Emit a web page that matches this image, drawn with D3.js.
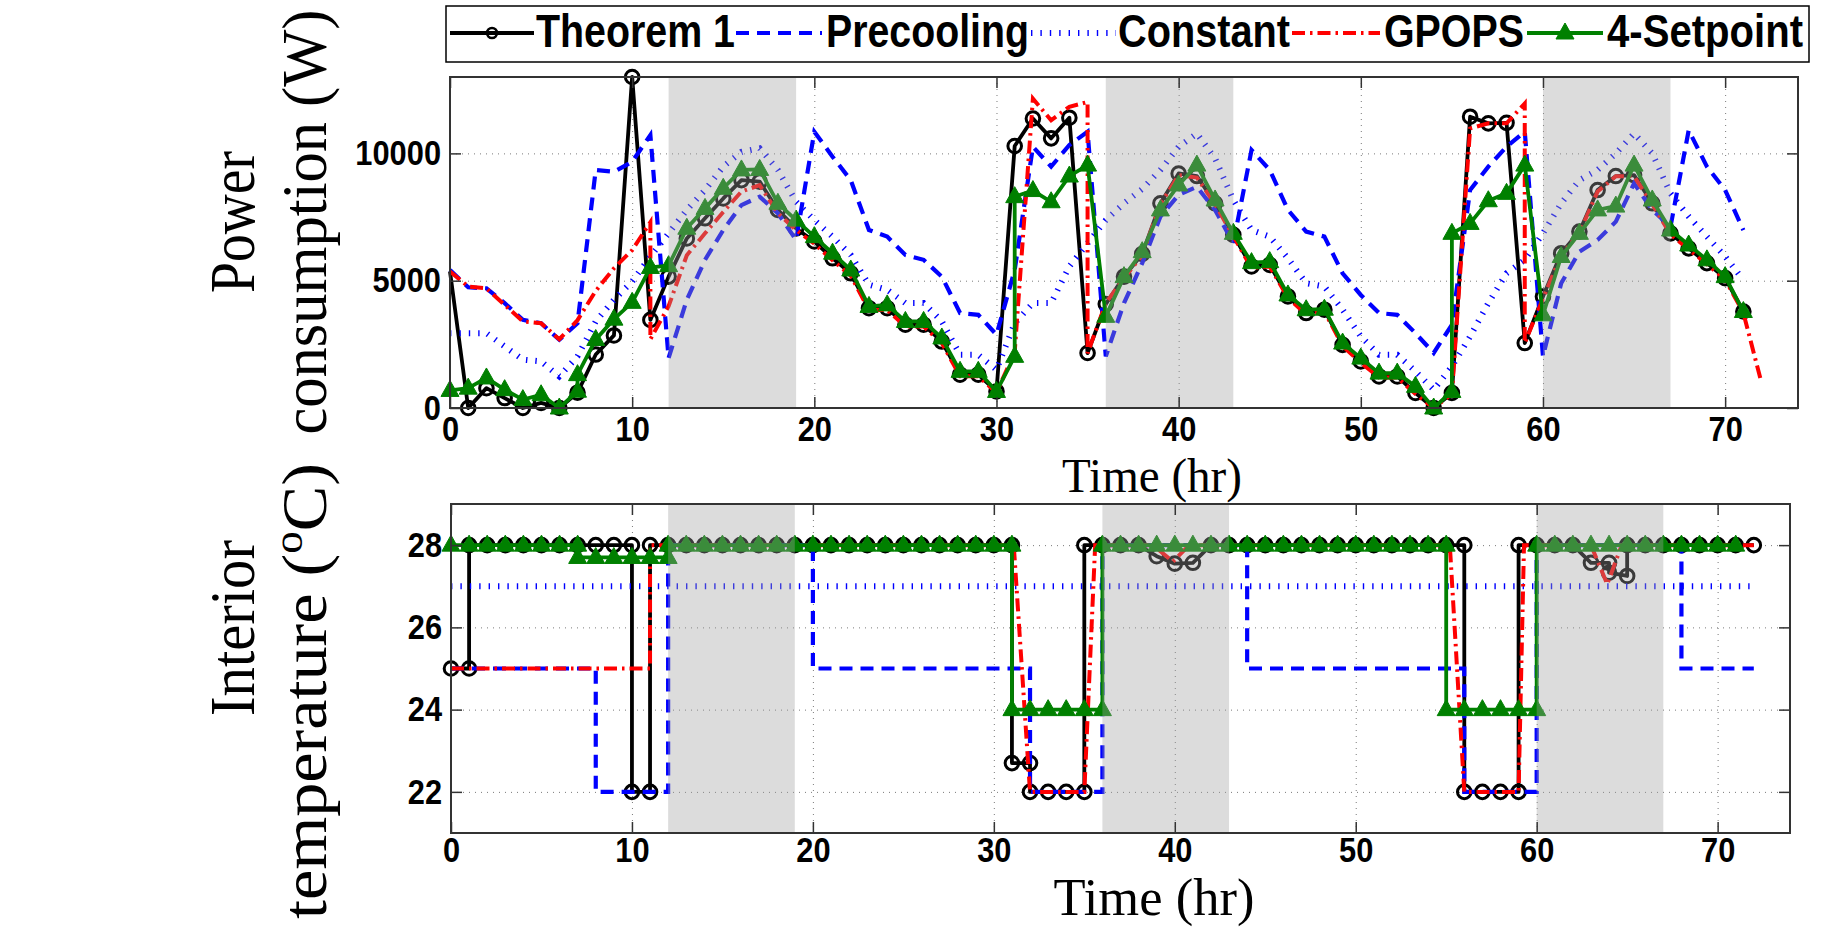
<!DOCTYPE html>
<html><head><meta charset="utf-8">
<script src="https://cdn.jsdelivr.net/npm/d3@7"></script>
<style>body{margin:0;background:#fff}svg{display:block}</style>
</head><body>
<svg id="c" width="1842" height="928"></svg>
<script>
// ---------------- DATA ----------------
const hours = [0,1,2,3,4,5,6,7,8,9,10,11,12,13,14,15,16,17,18,19,20,21,22,23,24,25,26,27,28,29,30,31,32,33,34,35,36,37,38,39,40,41,42,43,44,45,46,47,48,49,50,51,52,53,54,55,56,57,58,59,60,61,62,63,64,65,66,67,68,69,70,71];
const xTickValues = [0,10,20,30,40,50,60,70];
const powerTicks = [0,5000,10000];
const tempTicks = [22,24,26,28];
const shadeStart = [12,36,60];
const shadeEnd = [19,43,67];
const seriesNames = ["Theorem 1","Precooling","Constant","GPOPS","4-Setpoint"];

// Power consumption (W)
const theoremPower = [5360,0,780,390,0,200,0,600,2100,2850,13000,3460,5160,6660,7450,8230,8950,8890,7780,7050,6540,5880,5290,3920,3920,3270,3270,2610,1310,1310,650,10290,11370,10590,11400,2160,4080,5160,6050,8040,9210,9110,8040,6800,5560,5620,4380,3730,3860,2480,1830,1240,1240,590,0,590,11440,11180,11200,2550,4380,6080,6930,8560,9110,9150,8040,6860,6270,5690,5100,3790];
const precoolPower = [5420,4740,4700,4120,3460,3330,2680,3330,9350,9280,9670,10720,1960,4250,5820,6990,7970,8300,7650,6600,10850,9870,8950,6990,6730,6010,5820,5160,3730,3660,2880,5420,10260,9480,10330,10850,2030,4120,5690,7520,8370,8690,7780,6470,10130,9350,7780,6930,6730,5290,4440,3730,3660,2940,2160,3270,8560,9480,10260,10850,2030,4900,6140,6600,7320,8820,7780,7120,10910,9480,8560,6990];
const constantPower = [2940,2940,2940,2420,1900,1830,1240,2030,3400,4250,4970,5950,6860,7780,8560,9480,10060,10200,9350,8100,7380,6730,6010,4840,4640,4120,4120,3400,2090,2090,1500,3330,4120,4120,5560,6470,7380,8040,8600,9350,10260,10780,9800,8170,6990,6730,5880,4900,4770,3860,2810,2090,2090,1440,720,1630,2810,4120,5290,5820,6860,8040,8950,9350,10000,10780,10000,8430,7520,6730,5950,5030];
const gpopsPowerT = [0,1,2,3,4,5,6,7,8,9,10,11,11,12,13,14,15,16,17,18,19,20,21,22,23,24,25,26,27,28,29,30,31,32,33,34,35,35,36,37,38,39,40,41,42,43,44,45,46,47,48,49,50,51,52,53,54,55,56,57,58,59,59,60,61,62,63,64,65,66,67,68,69,70,71,72];
const gpopsPower = [5360,4770,4700,4050,3400,3330,2700,3450,4600,5490,6200,7300,2700,4000,6000,6860,7700,8500,8750,7650,6990,6450,5800,5200,3850,3850,3200,3200,2550,1250,1250,600,2200,12150,11300,11830,12020,2150,4120,5100,6000,8000,9150,9050,8000,6750,5500,5560,4330,3680,3800,2430,1780,1200,1200,550,0,550,10980,11180,11180,11960,2550,4300,6000,6880,8500,9100,9100,8000,6820,6230,5650,5050,3740,980];
const setpointPowerT = [0,1,2,3,4,5,6,7,7,8,9,10,11,12,13,14,15,16,17,18,19,20,21,22,23,24,25,26,27,28,29,30,31,31,32,33,34,35,36,37,38,39,40,41,42,43,44,45,46,47,48,49,50,51,52,53,54,55,55,56,57,58,59,60,61,62,63,64,65,66,67,68,69,70,71];
const setpointPower = [690,780,1180,720,330,520,0,660,1310,2690,3490,4150,5520,5590,7060,7840,8630,9350,9370,8040,7380,6730,6080,5420,3990,4050,3400,3400,2750,1440,1440,650,2030,8300,8540,8100,9110,9540,3600,5160,6140,7780,8760,9540,8170,6860,5710,5750,4440,3860,3880,2550,1960,1370,1370,850,0,650,6860,7250,8140,8430,9540,3660,5950,6860,7780,7930,9540,8170,6990,6400,5820,5160,3790];

// Interior temperature (oC)
const theoremTempT = [0,1,1,2,3,4,5,6,7,8,9,10,10,11,11,12,13,14,15,16,17,18,19,20,21,22,23,24,25,26,27,28,29,30,31,31,32,32,33,34,35,35,36,37,38,39,40,41,42,43,44,45,46,47,48,49,50,51,52,53,54,55,56,56,57,58,59,59,60,61,62,63,64,64,65,65,66,67,68,69,70,71,72];
const theoremTemp = [25,25,28,28,28,28,28,28,28,28,28,28,22,22,28,28,28,28,28,28,28,28,28,28,28,28,28,28,28,28,28,28,28,28,28,22.7,22.7,22,22,22,22,28,28,28,28,27.73,27.55,27.57,28,28,28,28,28,28,28,28,28,28,28,28,28,28,28,22,22,22,22,28,28,28,28,27.57,27.57,27.33,27.25,28,28,28,28,28,28,28,28];
const precoolTempT = [0,8,8,12,12,20,20,32,32,36,36,44,44,56,56,60,60,68,68,72];
const precoolTemp = [25,25,22,22,28,28,25,25,22,22,28,28,25,25,22,22,28,28,25,25];
const constantTempT = [0,72];
const constantTemp = [27,27];
const gpopsTempT = [0,11,11,31.1,32,35,35.6,38.8,39.9,40.8,55.2,56,59,59.3,63,63.9,64.7,72];
const gpopsTemp = [25,25,28,28,22,22,28,28,27.6,28,28,22,22,28,28,27.05,28,28];
const setpointTempT = [0,1,2,3,4,5,6,7,7,8,9,10,11,12,12,13,14,15,16,17,18,19,20,21,22,23,24,25,26,27,28,29,30,31,31,32,33,34,35,36,36,37,38,39,40,41,42,43,44,45,46,47,48,49,50,51,52,53,54,55,55,56,57,58,59,60,60,61,62,63,64,65,66,67,68,69,70,71];
const setpointTemp = [28,28,28,28,28,28,28,28,27.7,27.7,27.7,27.7,27.7,27.7,28,28,28,28,28,28,28,28,28,28,28,28,28,28,28,28,28,28,28,28,24,24,24,24,24,24,28,28,28,28,28,28,28,28,28,28,28,28,28,28,28,28,28,28,28,28,24,24,24,24,24,24,28,28,28,28,28,28,28,28,28,28,28,28];

// ---------------- DRAW ----------------
const svg = d3.select('#c');
const SANS = "'Liberation Sans', Arial, Helvetica, sans-serif";
const SERIF = "'Liberation Serif', 'Times New Roman', serif";
const GREEN = '#008000', BLUE = '#0000ff', RED = '#ff0000';
const TRI = 'M0,-10L9,6L-9,6Z';

function squeeze(sel, k){
  sel.each(function(){
    const w = this.getComputedTextLength();
    d3.select(this).attr('textLength', w*k).attr('lengthAdjust','spacingAndGlyphs');
  });
}
const zip = (t,v)=>t.map((d,i)=>[d,v[i]]);

function panel(box, yDomain, yTicks, data, opt){
  const x = d3.scaleLinear().domain([0,74]).range([box.x0, box.x1]);
  const y = d3.scaleLinear().domain(yDomain).range([box.y1, box.y0]);
  const g = svg.append('g');
  const h = box.y1-box.y0, w = box.x1-box.x0;
  // grid
  const gx = g.append('g').attr('transform',`translate(0,${box.y1})`)
    .call(d3.axisBottom(x).tickValues(xTickValues).tickSize(-h).tickFormat(''));
  const gy = g.append('g').attr('transform',`translate(${box.x0},0)`)
    .call(d3.axisLeft(y).tickValues(yTicks).tickSize(-w).tickFormat(''));
  [gx,gy].forEach(a=>{a.select('.domain').remove();
    a.selectAll('line').attr('stroke','#7a7a7a').attr('stroke-width',1).attr('stroke-dasharray','1,5');});

  const line = d3.line().x(d=>x(d[0])).y(d=>y(d[1]));
  const lg = g.append('g');
  // Theorem 1
  const th = zip(data.thT, data.th);
  lg.append('path').attr('d',line(th)).attr('fill','none').attr('stroke','#000').attr('stroke-width',3.8).attr('stroke-linejoin','round');
  lg.selectAll('circle.th').data(th.slice(opt.thMarkStart)).join('circle').attr('cx',d=>x(d[0])).attr('cy',d=>y(d[1])).attr('r',6.8)
    .attr('fill','none').attr('stroke','#000').attr('stroke-width',3);
  // Precooling
  lg.append('path').attr('d',line(zip(data.prT,data.pr))).attr('fill','none').attr('stroke',BLUE).attr('stroke-width',4.2).attr('stroke-dasharray','13,8');
  // Constant
  lg.append('path').attr('d',line(zip(data.coT,data.co))).attr('fill','none').attr('stroke',BLUE).attr('stroke-width',6).attr('stroke-dasharray','1.4,8');
  // GPOPS
  lg.append('path').attr('d',line(zip(data.gpT,data.gp))).attr('fill','none').attr('stroke',RED).attr('stroke-width',4).attr('stroke-dasharray','13,5,2.5,5');
  // 4-Setpoint
  const sp = zip(data.spT, data.sp);
  lg.append('path').attr('d',line(sp)).attr('fill','none').attr('stroke',GREEN).attr('stroke-width',3.8).attr('stroke-linejoin','round');
  lg.selectAll('path.tri').data(sp).join('path').attr('class','tri')
    .attr('transform',d=>`translate(${x(d[0])},${y(d[1])})`)
    .attr('d',TRI).attr('fill',GREEN).attr('stroke',GREEN).attr('stroke-width',1);

  // shaded periods (semi-transparent, drawn over lines)
  g.append('g').selectAll('rect').data(shadeStart.map((s,i)=>[s,shadeEnd[i]])).join('rect')
    .attr('x',d=>x(d[0])).attr('width',d=>x(d[1])-x(d[0])).attr('y',box.y0+1).attr('height',h-2)
    .attr('fill','rgb(160,160,160)').attr('opacity',0.37);

  // inward ticks on four sides
  const tk = 11;
  const axes = [
    g.append('g').attr('transform',`translate(0,${box.y1})`).call(d3.axisBottom(x).tickValues(xTickValues).tickSize(-tk).tickFormat('')),
    g.append('g').attr('transform',`translate(0,${box.y0})`).call(d3.axisTop(x).tickValues(xTickValues).tickSize(-tk).tickFormat('')),
    g.append('g').attr('transform',`translate(${box.x0},0)`).call(d3.axisLeft(y).tickValues(yTicks).tickSize(-tk).tickFormat('')),
    g.append('g').attr('transform',`translate(${box.x1},0)`).call(d3.axisRight(y).tickValues(yTicks).tickSize(-tk).tickFormat(''))];
  axes.forEach(a=>{a.select('.domain').remove(); a.selectAll('line').attr('stroke','#333').attr('stroke-width',1.5);});
  g.append('rect').attr('x',box.x0).attr('y',box.y0).attr('width',w).attr('height',h)
    .attr('fill','none').attr('stroke','#333').attr('stroke-width',2);

  // tick labels
  const lx = g.append('g').attr('transform',`translate(0,${box.y1})`)
    .call(d3.axisBottom(x).tickValues(xTickValues).tickSize(0).tickPadding(opt.xpad).tickFormat(d3.format('d')));
  const ly = g.append('g').attr('transform',`translate(${box.x0},0)`)
    .call(d3.axisLeft(y).tickValues(yTicks).tickSize(0).tickPadding(9).tickFormat(d3.format('d')));
  [lx,ly].forEach(a=>{a.select('.domain').remove();
    a.selectAll('text').attr('font-family',SANS).attr('font-weight','bold').attr('font-size',35).attr('fill','#000');
    squeeze(a.selectAll('text'),0.88);});
  return {x,y};
}

panel({x0:450,x1:1798,y0:77,y1:408},[0,13000],powerTicks,{
  thT:hours, th:theoremPower, prT:hours, pr:precoolPower, coT:hours, co:constantPower,
  gpT:gpopsPowerT, gp:gpopsPower, spT:setpointPowerT, sp:setpointPower},{xpad:8, thMarkStart:1});
panel({x0:451,x1:1790,y0:504,y1:833},[21,29],tempTicks,{
  thT:theoremTempT, th:theoremTemp, prT:precoolTempT, pr:precoolTemp, coT:constantTempT, co:constantTemp,
  gpT:gpopsTempT, gp:gpopsTemp, spT:setpointTempT, sp:setpointTemp},{xpad:4, thMarkStart:0});

// axis titles: font size sets glyph height, scale along reading direction sets length
function title(parts, tx, ty, rot, size, len){
  const t = svg.append('text').attr('text-anchor','start').attr('font-family',SERIF).attr('font-size',size).attr('fill','#000');
  parts.forEach(p=>{
    const s = t.append('tspan').text(p.t);
    if(p.sup){ s.attr('font-size',size*0.66).attr('dy',-size*0.38); }
    if(p.down){ s.attr('dy',size*0.38); }
  });
  const nat = t.node().getBBox().width;
  const k = len/nat;
  t.attr('transform',`translate(${tx},${ty}) rotate(${rot}) scale(${k},1) translate(${-nat/2},0)`);
  return t;
}
title([{t:'Time (hr)'}],1152,492,0,48,180);
title([{t:'Time (hr)'}],1154,915,0,52,201);
title([{t:'Power'}],254,222,-90,64,142);
title([{t:'consumption (W)'}],326,222,-90,64,425);
title([{t:'Interior'}],254,628,-90,64,176);
title([{t:'temperature ('},{t:'o',sup:true},{t:'C)',down:true}],326,691,-90,64,456);

// legend
const leg = svg.append('g');
leg.append('rect').attr('x',446).attr('y',6).attr('width',1363).attr('height',56).attr('fill','#fff').attr('stroke','#000').attr('stroke-width',1.5);
const legLine = [[450,534],[736,822],[1031,1116],[1292,1380],[1527,1603]];
const legText = [536,826,1118,1384,1607];
const legW = [199,203,172,140,196];
const legY = 33;
const styles = [
  {stroke:'#000',w:3.8,dash:null},{stroke:BLUE,w:4.2,dash:'13,8'},{stroke:BLUE,w:6,dash:'1.4,8'},
  {stroke:RED,w:4,dash:'13,5,2.5,5'},{stroke:GREEN,w:3.8,dash:null}];
seriesNames.forEach((n,i)=>{
  const s = styles[i];
  leg.append('line').attr('x1',legLine[i][0]).attr('x2',legLine[i][1]).attr('y1',legY).attr('y2',legY)
    .attr('stroke',s.stroke).attr('stroke-width',s.w).attr('stroke-dasharray',s.dash);
  const mx = (legLine[i][0]+legLine[i][1])/2;
  if(i===0) leg.append('circle').attr('cx',mx).attr('cy',legY).attr('r',5).attr('fill','none').attr('stroke','#000').attr('stroke-width',2.6);
  if(i===4) leg.append('path').attr('transform',`translate(${mx},${legY})`).attr('d',TRI).attr('fill',GREEN).attr('stroke',GREEN);
  leg.append('text').attr('x',legText[i]).attr('y',47).attr('font-family',SANS).attr('font-weight','bold')
    .attr('font-size',46).attr('textLength',legW[i]).attr('lengthAdjust','spacingAndGlyphs').text(n);
});
</script>
</body></html>
